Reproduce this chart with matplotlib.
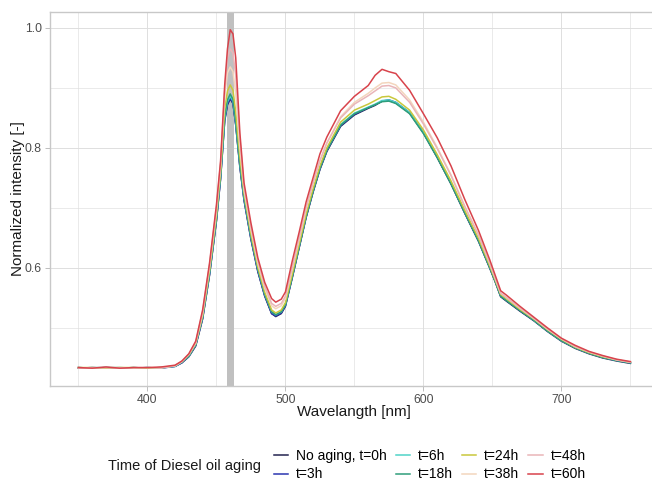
import matplotlib
matplotlib.use("Agg")
import matplotlib.pyplot as plt

plt.rcParams["font.family"] = ["Liberation Sans", "DejaVu Sans"]

# Datos
longitud_onda = [350, 360, 370, 380, 390, 400, 410, 420, 425, 430, 435, 440, 445, 450,
                 453, 456, 458, 460, 462, 464, 467, 470, 475, 480, 485, 490, 493, 497, 500,
                 505, 510, 515, 520, 525, 530, 540, 550, 560, 565, 570, 575, 580,
                 590, 600, 610, 620, 630, 640, 648, 652, 656, 660,
                 670, 680, 690, 700, 710, 720, 730, 740, 750]

t0 = [.433, .434, .433, .433, .434, .433, .434, .436,
      .442, .452, .470, .515, .588, .678,
      .748, .845, .872, .882, .874, .838, .768, .713,
      .648, .594, .553, .524, .519, .524, .536,
      .584, .634, .684, .726, .764, .794,
      .836, .855, .866, .871, .878, .879, .875,
      .858, .825, .784, .740, .691, .644,
      .600, .577, .552, .545,
      .528, .512, .494, .478, .466, .457, .450, .445, .441]

t3 = [.434, .433, .434, .433, .433, .434, .433, .436,
      .442, .453, .471, .516, .589, .679,
      .749, .846, .873, .883, .875, .839, .769, .714,
      .649, .595, .554, .524, .520, .525, .537,
      .585, .635, .685, .727, .765, .795,
      .837, .856, .867, .872, .878, .880, .876,
      .859, .826, .785, .741, .692, .645,
      .601, .578, .553, .546,
      .529, .513, .495, .479, .467, .458, .451, .446, .442]

t6 = [.433, .434, .434, .433, .434, .433, .434, .436,
      .443, .453, .472, .518, .591, .682,
      .752, .850, .877, .886, .878, .842, .772, .717,
      .652, .598, .556, .527, .522, .527, .539,
      .587, .637, .687, .729, .767, .797,
      .839, .858, .868, .873, .879, .880, .876,
      .859, .826, .786, .742, .693, .646,
      .602, .579, .554, .547,
      .530, .513, .495, .479, .467, .458, .451, .446, .442]

t18 = [.434, .433, .434, .434, .433, .434, .433, .437,
       .443, .454, .473, .519, .593, .684,
       .755, .853, .880, .890, .881, .845, .774, .719,
       .653, .599, .557, .527, .522, .527, .539,
       .586, .636, .686, .728, .766, .796,
       .838, .857, .867, .872, .877, .878, .874,
       .857, .824, .784, .740, .692, .645,
       .601, .578, .553, .546,
       .529, .513, .495, .479, .467, .458, .451, .446, .442]

t24 = [.434, .434, .433, .434, .434, .433, .434, .437,
       .444, .455, .474, .521, .596, .688,
       .760, .866, .895, .905, .896, .860, .785, .725,
       .657, .602, .560, .530, .525, .530, .542,
       .590, .640, .690, .732, .770, .800,
       .843, .863, .873, .879, .885, .886, .881,
       .863, .830, .789, .745, .696, .649,
       .604, .580, .556, .549,
       .531, .515, .497, .481, .468, .459, .452, .447, .443]

t38 = [.434, .433, .434, .434, .433, .434, .434, .437,
       .444, .456, .475, .524, .601, .695,
       .768, .885, .925, .935, .927, .890, .800, .730,
       .664, .608, .566, .537, .532, .537, .549,
       .598, .648, .698, .740, .778, .808,
       .852, .876, .891, .900, .908, .909, .905,
       .880, .843, .801, .755, .703, .655,
       .608, .583, .558, .551,
       .533, .516, .498, .482, .469, .460, .453, .447, .443]

t48 = [.433, .434, .434, .433, .434, .434, .433, .437,
       .444, .456, .476, .527, .605, .700,
       .774, .895, .950, .965, .958, .920, .815, .735,
       .668, .612, .570, .541, .536, .541, .553,
       .602, .651, .701, .742, .779, .808,
       .850, .873, .887, .895, .903, .904, .900,
       .876, .840, .799, .754, .702, .654,
       .608, .583, .558, .551,
       .533, .516, .498, .482, .469, .460, .453, .447, .443]

t60 = [.434, .433, .435, .433, .434, .434, .435, .438,
       .445, .457, .478, .530, .608, .705,
       .778, .905, .965, .997, .990, .950, .825, .742,
       .675, .617, .576, .549, .543, .548, .560,
       .612, .660, .710, .750, .790, .818,
       .862, .886, .904, .921, .931, .927, .924,
       .896, .857, .817, .770, .714, .662,
       .614, .588, .562, .555,
       .536, .518, .500, .483, .471, .461, .454, .448, .444]

series = [t0, t3, t6, t18, t24, t38, t48, t60]
etiquetas = ["No aging, t=0h", "t=3h", "t=6h", "t=18h", "t=24h", "t=38h", "t=48h", "t=60h"]
colores = ["#23234f", "#2b36b0", "#4fd3c8", "#2f9e7a", "#c9c83c", "#f3d6bd", "#e9b5b8", "#d8434b"]

fig = plt.figure(figsize=(6.52, 4.83), dpi=100)
ax = fig.add_axes([50 / 652, 1 - 386 / 483, 608 / 652, 374.3 / 483])

# Banda gris de la excitacion
ax.axvspan(457.5, 462.5, color="#c0c0c0", lw=0, zorder=1)

for datos, etiqueta, color in zip(series, etiquetas, colores):
    ax.plot(longitud_onda, datos, color=color, lw=1.1, label=etiqueta, zorder=2)

ax.set_xlim(329.4, 770)
ax.set_ylim(0.4033, 1.027)
ax.set_xticks([400, 500, 600, 700])
ax.set_xticks([350, 450, 550, 650, 750], minor=True)
ax.set_yticks([0.6, 0.8, 1.0])
ax.set_yticks([0.5, 0.7, 0.9], minor=True)
ax.set_yticklabels(["0.6", "0.8", "1.0"])

# Estilo tipo theme_light
ax.grid(which="major", color="#dedede", lw=0.7)
ax.grid(which="minor", color="#dedede", lw=0.45)
ax.set_axisbelow(True)
for s in ax.spines.values():
    s.set_color("#c8c8c8")
    s.set_linewidth(1.0)
ax.tick_params(which="major", length=3.5, width=0.6, color="#b3b3b3",
               labelsize=8.8, labelcolor="#4d4d4d", pad=2.5)
ax.tick_params(which="minor", length=0)

ax.set_xlabel("Wavelangth [nm]", fontsize=11, color="#1a1a1a")
ax.xaxis.set_label_coords(0.5, -(412 - 386) / 374.3)
ax.xaxis.label.set_va("center")
ax.set_ylabel("Normalized intensity [-]", fontsize=11, color="#1a1a1a")
ax.yaxis.set_label_coords(-(50 - 18) / 608, 0.5)
ax.yaxis.label.set_va("center")

# Leyenda abajo
fig.text(108 / 652, 1 - 466 / 483, "Time of Diesel oil aging", fontsize=10.5,
         ha="left", va="center", color="#1a1a1a")
fig.legend(loc="center left", bbox_to_anchor=(261 / 652, 1 - 465 / 483), ncol=4,
           frameon=False, fontsize=10, handlelength=1.05, handletextpad=0.55,
           columnspacing=0.65, labelspacing=0.35)

fig.savefig("out.png", dpi=100)
